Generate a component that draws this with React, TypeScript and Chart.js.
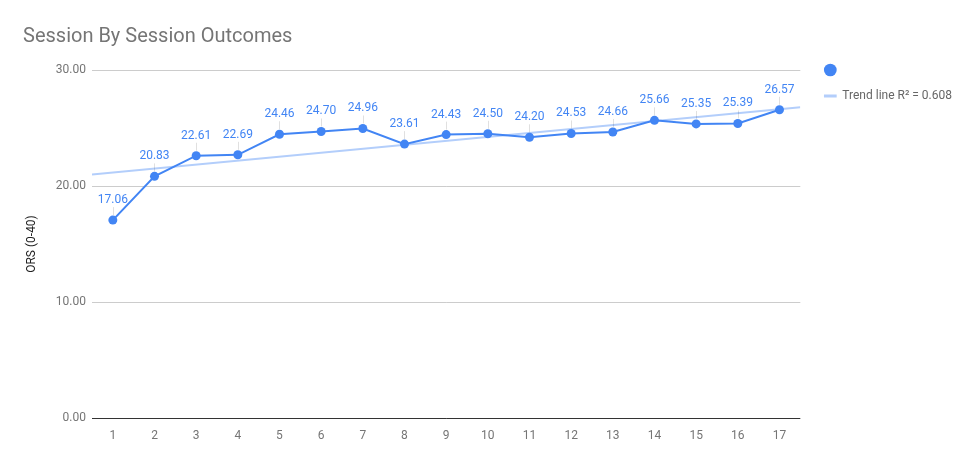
import React, { useEffect, useRef } from "react";
import { Chart, registerables } from "chart.js";

Chart.register(...registerables);

const titleText = "Session By Session Outcomes";
const yAxisTitle = "ORS (0-40)";
const sessions = ["1", "2", "3", "4", "5", "6", "7", "8", "9", "10", "11", "12", "13", "14", "15", "16", "17"];
const orsValues = [17.06, 20.83, 22.61, 22.69, 24.46, 24.7, 24.96, 23.61, 24.43, 24.5, 24.2, 24.53, 24.66, 25.66, 25.35, 25.39, 26.57];
const trendX = [0.5, 17.5];
const trendY = [21.0, 26.79];
const trendLabel = "Trend line R\u00B2 = 0.608";
const yTicks = [0, 10, 20, 30];

const MAIN = "#4285F4";
const TREND = "#B3CEFB";
const FONT = "Roboto";

const dataLabelPlugin = {
  id: "pointLabels",
  afterDatasetsDraw(chart: any) {
    const meta = chart.getDatasetMeta(0);
    const ctx = chart.ctx;
    ctx.save();
    ctx.font = `12px ${FONT}`;
    ctx.textAlign = "center";
    ctx.textBaseline = "alphabetic";
    meta.data.forEach((el: any, i: number) => {
      const { x, y } = el.getProps(["x", "y"], true);
      ctx.strokeStyle = "rgba(0,0,0,0.12)";
      ctx.lineWidth = 1;
      ctx.beginPath();
      ctx.moveTo(Math.round(x) + 0.5, y - 5);
      ctx.lineTo(Math.round(x) + 0.5, y - 13);
      ctx.stroke();
      ctx.fillStyle = MAIN;
      ctx.fillText(orsValues[i].toFixed(2), x, y - 17);
    });
    ctx.restore();
  },
};

export default function App() {
  const canvasRef = useRef<HTMLCanvasElement | null>(null);

  useEffect(() => {
    if (!canvasRef.current) return;
    const chart = new Chart(canvasRef.current, {
      type: "line",
      data: {
        labels: sessions,
        datasets: [
          {
            label: "ORS",
            data: orsValues,
            xAxisID: "x",
            yAxisID: "y",
            borderColor: MAIN,
            backgroundColor: MAIN,
            borderWidth: 2,
            pointRadius: 4.5,
            pointBorderWidth: 0,
            pointBackgroundColor: MAIN,
            tension: 0,
            order: 0,
          },
          {
            label: trendLabel,
            data: trendX.map((x, i) => ({ x, y: trendY[i] })),
            xAxisID: "xTrend",
            yAxisID: "y",
            borderColor: TREND,
            backgroundColor: TREND,
            borderWidth: 2,
            pointRadius: 0,
            tension: 0,
            order: 1,
          } as any,
        ],
      },
      options: {
        animation: false,
        responsive: true,
        maintainAspectRatio: false,
        layout: { padding: { left: 23, right: 17, top: 0, bottom: 0 } },
        plugins: {
          tooltip: { enabled: false },
          title: {
            display: true,
            text: titleText,
            align: "start",
            color: "#757575",
            font: { family: FONT, size: 20, weight: "normal", lineHeight: 1.2 },
            padding: { top: 25, bottom: 21 },
          },
          legend: {
            display: true,
            position: "right",
            align: "start",
            title: {
              display: true,
              text: "",
              font: { family: FONT, size: 12, lineHeight: 1 },
              padding: { top: 38, bottom: 0 },
            },
            labels: {
              usePointStyle: true,
              boxHeight: 9,
              padding: 14,
              color: "#757575",
              font: { family: FONT, size: 12 },
              generateLabels: () => [
                {
                  text: "",
                  fillStyle: MAIN,
                  strokeStyle: MAIN,
                  lineWidth: 0,
                  pointStyle: "circle",
                  hidden: false,
                  datasetIndex: 0,
                } as any,
                {
                  text: trendLabel,
                  fillStyle: TREND,
                  strokeStyle: TREND,
                  lineWidth: 3,
                  pointStyle: "line",
                  hidden: false,
                  datasetIndex: 1,
                } as any,
              ],
            },
          },
        },
        scales: {
          x: {
            type: "category",
            offset: true,
            grid: { display: false, drawTicks: false },
            border: { display: false },
            ticks: { color: "#757575", font: { family: FONT, size: 12 }, padding: 11, maxRotation: 0, autoSkip: false },
            afterFit: (s: any) => {
              s.height = 43;
            },
          },
          xTrend: {
            type: "linear",
            display: false,
            min: trendX[0],
            max: trendX[1],
          },
          y: {
            type: "linear",
            min: yTicks[0],
            max: yTicks[yTicks.length - 1],
            afterBuildTicks: (s: any) => {
              s.ticks = yTicks.map((v) => ({ value: v }));
            },
            ticks: {
              color: "#757575",
              font: { family: FONT, size: 12 },
              padding: 6,
              callback: (v: any) => Number(v).toFixed(2),
            },
            grid: {
              drawTicks: false,
              color: (c: any) => (c.tick && c.tick.value === 0 ? "#333333" : "#cccccc"),
              lineWidth: 1,
            },
            border: { display: false },
            title: {
              display: true,
              text: yAxisTitle,
              color: "#222222",
              font: { family: FONT, size: 12 },
              padding: { top: 2, bottom: 0 },
            },
            afterFit: (s: any) => {
              s.width = 69;
            },
          },
          yPad: {
            type: "linear",
            position: "right",
            display: true,
            min: 0,
            max: 1,
            grid: { display: false, drawTicks: false },
            border: { display: false },
            ticks: { display: false },
            afterFit: (s: any) => {
              s.width = 10;
            },
          },
        },
      },
      plugins: [dataLabelPlugin],
    });
    return () => chart.destroy();
  }, []);

  return (
    <div style={{ position: "absolute", left: 0, top: 0, width: 979, height: 461, background: "#fff" }}>
      <canvas ref={canvasRef} />
    </div>
  );
}
